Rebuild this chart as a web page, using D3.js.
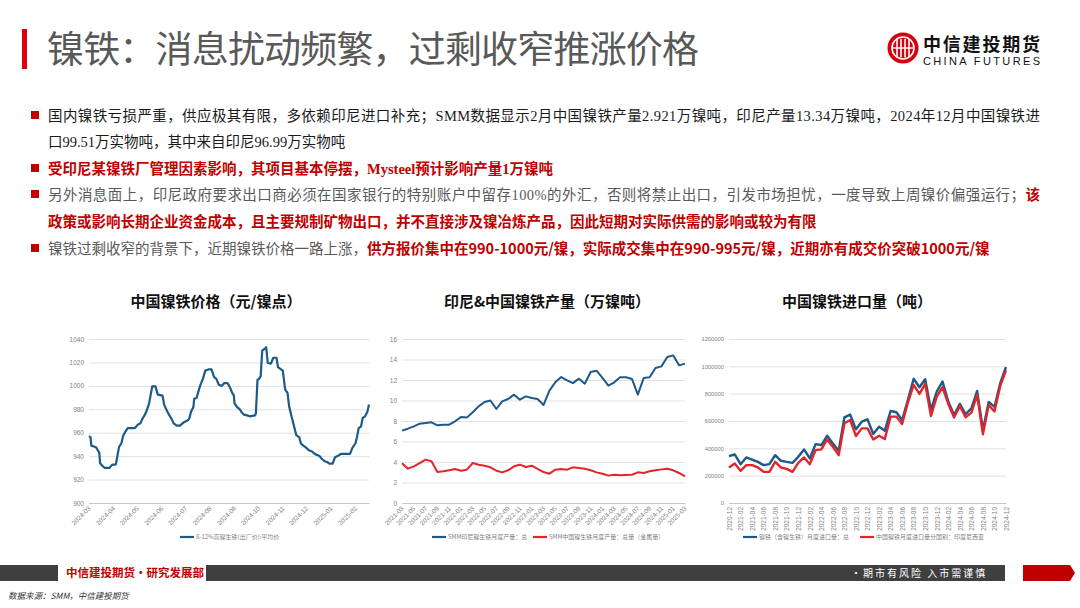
<!DOCTYPE html>
<html>
<head>
<meta charset="utf-8">
<script src="https://d3js.org/d3.v7.min.js"></script>
<title>镍铁：消息扰动频繁，过剩收窄推涨价格</title>
<style>
  body { margin: 0; background: #fff; }
  svg { display: block; }
</style>
</head>
<body>
<svg width="1080" height="608"></svg>
<script>
// ---- data ----
var priceDates = ["2024-03-01","2024-03-03","2024-03-04","2024-03-08","2024-03-10","2024-03-13","2024-03-14","2024-03-15","2024-03-19","2024-03-21","2024-03-27","2024-03-30",
  "2024-04-04","2024-04-08","2024-04-11","2024-04-13","2024-04-16","2024-04-19","2024-04-28","2024-05-02","2024-05-05","2024-05-08","2024-05-10","2024-05-13","2024-05-16","2024-05-18","2024-05-20","2024-05-24","2024-05-27",
  "2024-06-02","2024-06-04","2024-06-08","2024-06-11","2024-06-14","2024-06-16","2024-06-20","2024-06-24","2024-06-29","2024-07-04","2024-07-06","2024-07-08","2024-07-11","2024-07-12","2024-07-15","2024-07-18","2024-07-20","2024-07-23","2024-07-26","2024-07-30",
  "2024-08-03","2024-08-06","2024-08-09","2024-08-12","2024-08-16","2024-08-19","2024-08-23","2024-08-26","2024-08-29","2024-08-31","2024-09-01","2024-09-04","2024-09-08","2024-09-10","2024-09-13","2024-09-17","2024-09-20","2024-09-27","2024-09-28","2024-09-30",
  "2024-10-02","2024-10-04","2024-10-06","2024-10-09","2024-10-11","2024-10-13","2024-10-17","2024-10-20","2024-10-24","2024-10-26","2024-11-01","2024-11-04","2024-11-07","2024-11-09","2024-11-12","2024-11-14","2024-11-18","2024-11-22","2024-11-24","2024-11-27","2024-11-30",
  "2024-12-04","2024-12-08","2024-12-10","2024-12-13","2024-12-17","2024-12-20","2024-12-24","2024-12-27","2024-12-30","2025-01-03","2025-01-06","2025-01-10","2025-01-14","2025-01-25","2025-01-28","2025-02-01","2025-02-03","2025-02-05","2025-02-08","2025-02-10","2025-02-13","2025-02-16","2025-02-18"];
var priceValues = [957,956,949,948,947.5,944,943,934,931,930,930,932.5,
  933,948,951,957,961,964,964,967,968,972.5,974.5,979,985,992.5,999.6,999.6,992.5,
  991.6,984,978,974.5,971,968,966,966,969,970.6,972.5,978,982,989,989.6,996.8,1001,1006,1013,1014,
  1014,1007.6,1006,1001,1000,1002.4,1002.4,999,994,992,985,982,979.7,977.4,975.4,974.8,974,974.8,976.8,1005,
  1006,1008,1030,1031.5,1033,1019.5,1019,1024,1024,1016,1013,996.8,994,982.5,974,969,958,956,950.6,949,947.5,
  945,944,942.7,941.3,940.4,938,935.6,935,933.6,933.6,939,940.4,942,942,947,951,957,964,965.5,972.6,974,978,984];
var priceMonthLabels = ["2024-03","2024-04","2024-05","2024-06","2024-07","2024-08","2024-09","2024-10","2024-11","2024-12","2025-01","2025-02"];
var priceTicks = [900,920,940,960,980,1000,1020,1040];

var prodMonths = ["2021-03","2021-04","2021-05","2021-06","2021-07","2021-08","2021-09","2021-10","2021-11","2021-12",
  "2022-01","2022-02","2022-03","2022-04","2022-05","2022-06","2022-07","2022-08","2022-09","2022-10","2022-11","2022-12",
  "2023-01","2023-02","2023-03","2023-04","2023-05","2023-06","2023-07","2023-08","2023-09","2023-10","2023-11","2023-12",
  "2024-01","2024-02","2024-03","2024-04","2024-05","2024-06","2024-07","2024-08","2024-09","2024-10","2024-11","2024-12",
  "2025-01","2025-02","2025-03"];
var idnProd = [7.06,7.25,7.48,7.74,7.8,7.87,7.58,7.64,7.64,7.97,
  8.39,8.33,8.85,9.43,9.85,10.0,9.17,9.92,10.15,10.57,10.08,10.4,
  10.24,10.15,9.56,10.96,11.77,12.29,11.97,11.7,12.13,11.64,12.78,12.91,
  12.2,11.45,11.77,12.26,12.26,12.1,10.57,12.2,12.26,13.17,13.33,14.24,
  14.4,13.43,13.6];
var cnProd = [3.87,3.35,3.58,3.9,4.23,4.07,3.02,3.09,3.19,3.32,
  3.15,3.25,3.9,3.74,3.64,3.48,3.15,2.99,3.19,3.58,3.74,3.51,
  3.64,3.32,3.02,2.86,3.25,3.32,3.25,3.48,3.41,3.35,3.19,2.99,
  2.86,2.67,2.76,2.7,2.73,2.76,2.99,2.93,3.09,3.19,3.28,3.35,
  3.19,2.93,2.6];
var prodTicks = [0,2,4,6,8,10,12,14,16];
var prodRightTicks = [20,40,60,80,100,120];

var impMonths = ["2020-12","2021-01","2021-02","2021-03","2021-04","2021-05","2021-06","2021-07","2021-08","2021-09","2021-10","2021-11","2021-12",
  "2022-01","2022-02","2022-03","2022-04","2022-05","2022-06","2022-07","2022-08","2022-09","2022-10","2022-11","2022-12",
  "2023-01","2023-02","2023-03","2023-04","2023-05","2023-06","2023-07","2023-08","2023-09","2023-10","2023-11","2023-12",
  "2024-01","2024-02","2024-03","2024-04","2024-05","2024-06","2024-07","2024-08","2024-09","2024-10","2024-11","2024-12"];
var impTotal = [343000,355000,284000,333000,318000,301000,277000,284000,350000,309000,301000,294000,338000,
  392000,326000,431000,424000,492000,436000,382000,627000,647000,539000,595000,612000,
  505000,558000,529000,673000,664000,607000,754000,909000,847000,906000,681000,815000,
  889000,742000,644000,725000,651000,693000,820000,534000,740000,703000,877000,995100];
var impIdn = [260000,289000,235000,277000,277000,260000,228000,228000,301000,260000,250000,228000,294000,
  333000,284000,387000,392000,465000,411000,350000,583000,607000,490000,546000,546000,
  465000,492000,468000,632000,632000,578000,735000,864000,798000,872000,637000,779000,
  847000,725000,625000,710000,627000,661000,791000,502000,717000,669000,857000,969900];
var impTicks = [0,200000,400000,600000,800000,1000000,1200000];

var BLUE = '#1c5a8a', RED = '#e3242b', DARKRED = '#c00000';
var SANS = '"Liberation Sans", Arial, sans-serif';
var CN = '"Noto Sans CJK SC", sans-serif';
var SERIF = '"Liberation Serif", "Noto Sans CJK SC", serif';

var svg = d3.select('svg');

// ---- header ----
svg.append('rect').attr('x', 22).attr('y', 29).attr('width', 5).attr('height', 40).attr('fill', '#d7000f');
svg.append('text').attr('x', 47).attr('y', 63)
  .style('font-family', CN).style('font-size', '37px').attr('fill', '#595959')
  .attr('textLength', 652)
  .text('镍铁：消息扰动频繁，过剩收窄推涨价格');

// logo
var logo = svg.append('g').attr('transform', 'translate(903,48)');
logo.append('circle').attr('r', 15.5).attr('fill', '#d7000f');
logo.append('circle').attr('r', 11).attr('fill', 'none').attr('stroke', '#fff').attr('stroke-width', 1.6);
[-6, -2, 2, 6].forEach(function(dx) {
  logo.append('line').attr('x1', dx).attr('x2', dx).attr('y1', -9).attr('y2', 9)
    .attr('stroke', '#fff').attr('stroke-width', 1.6);
});
logo.append('line').attr('x1', -10).attr('x2', 10).attr('y1', 0).attr('y2', 0).attr('stroke', '#fff').attr('stroke-width', 1.4);
svg.append('text').attr('x', 923).attr('y', 51).attr('textLength', 117)
  .style('font-family', CN).style('font-size', '18px').style('font-weight', 'bold').attr('fill', '#111')
  .text('中信建投期货');
svg.append('text').attr('x', 923).attr('y', 65).attr('textLength', 117)
  .style('font-family', SANS).style('font-size', '11px').attr('fill', '#111')
  .text('CHINA FUTURES');

// ---- bullet text ----
var bullets = [
  {y: 121, bullet: true, len: 992, parts: [
    {t: '国内镍铁亏损严重，供应极其有限，多依赖印尼进口补充；SMM数据显示2月中国镍铁产量2.921万镍吨，印尼产量13.34万镍吨，2024年12月中国镍铁进', c: '#1a1a1a'}]},
  {y: 147, parts: [{t: '口99.51万实物吨，其中来自印尼96.99万实物吨', c: '#1a1a1a'}]},
  {y: 174, bullet: true, parts: [{t: '受印尼某镍铁厂管理因素影响，其项目基本停摆，Mysteel预计影响产量1万镍吨', c: DARKRED, b: true}]},
  {y: 200, bullet: true, len: 992, parts: [
    {t: '另外消息面上，印尼政府要求出口商必须在国家银行的特别账户中留存100%的外汇，否则将禁止出口，引发市场担忧，一度导致上周镍价偏强运行；', c: '#595959'},
    {t: '该', c: DARKRED, b: true}]},
  {y: 227, parts: [{t: '政策或影响长期企业资金成本，且主要规制矿物出口，并不直接涉及镍冶炼产品，因此短期对实际供需的影响或较为有限', c: DARKRED, b: true}]},
  {y: 254, bullet: true, parts: [
    {t: '镍铁过剩收窄的背景下，近期镍铁价格一路上涨，', c: '#595959'},
    {t: '供方报价集中在990-1000元/镍，实际成交集中在990-995元/镍，近期亦有成交价突破1000元/镍', c: DARKRED, b: true, f: CN}]}
];
bullets.forEach(function(l) {
  if (l.bullet) {
    svg.append('rect').attr('x', 31).attr('y', l.y - 10).attr('width', 8).attr('height', 8).attr('fill', DARKRED);
  }
  var t = svg.append('text').attr('x', 48).attr('y', l.y)
    .style('font-family', SERIF).style('font-size', '14.5px');
  if (l.len) t.attr('textLength', l.len).attr('lengthAdjust', 'spacing');
  l.parts.forEach(function(p) {
    t.append('tspan').text(p.t).attr('fill', p.c)
      .style('font-weight', p.b ? 'bold' : 'normal')
      .style('font-family', p.f || SERIF);
  });
});

// ---- helpers ----
function chartTitle(cx, txt) {
  svg.append('text').attr('x', cx).attr('y', 307).attr('text-anchor', 'middle')
    .style('font-family', CN).style('font-size', '15px').style('font-weight', 'bold').attr('fill', '#111')
    .text(txt);
}

function leftAxis(scale, ticks, x0, x1, fmt, fs) {
  var g = svg.append('g').attr('transform', `translate(${x0},0)`)
    .call(d3.axisLeft(scale).tickValues(ticks).tickSize(-(x1 - x0)).tickPadding(5).tickFormat(fmt || d3.format('d')));
  g.select('.domain').remove();
  g.selectAll('line').attr('stroke', '#d9d9d9').attr('stroke-width', 0.8);
  g.selectAll('text').attr('fill', '#7f7f7f').style('font-family', SANS).style('font-size', (fs || 6.5) + 'px');
  return g;
}

function bottomAxis(scale, ticks, y0, fmt, rot) {
  var g = svg.append('g').attr('transform', `translate(0,${y0})`)
    .call(d3.axisBottom(scale).tickValues(ticks).tickSize(0).tickPadding(4).tickFormat(fmt));
  g.select('.domain').attr('stroke', '#bfbfbf').attr('stroke-width', 0.8);
  var tx = g.selectAll('text').attr('fill', '#7f7f7f').style('font-family', SANS).style('font-size', '6.5px')
    .attr('text-anchor', 'end');
  if (rot === -90) {
    tx.attr('transform', 'rotate(-90)').attr('x', -4).attr('y', 0).attr('dy', '0.35em');
  } else {
    tx.attr('transform', 'rotate(-45)').attr('x', -3).attr('y', 3).attr('dy', '0.35em');
  }
  return g;
}

function legendItem(x, y, color, txt) {
  svg.append('line').attr('x1', x).attr('x2', x + 14).attr('y1', y).attr('y2', y)
    .attr('stroke', color).attr('stroke-width', 2.2);
  svg.append('text').attr('x', x + 16).attr('y', y).attr('dy', '0.35em')
    .style('font-family', CN).style('font-size', '6px').attr('fill', '#7f7f7f')
    .text(txt);
}

var plotTop = 339, plotBottom = 503;

// ---- chart 1: price ----
chartTitle(216, '中国镍铁价格（元/镍点）');
var parseDay = d3.timeParse('%Y-%m-%d'), parseMonth = d3.timeParse('%Y-%m');
var priceData = priceDates.map(function(d, i) { return {date: parseDay(d), value: priceValues[i]}; });
var x1 = d3.scaleTime().domain([parseDay('2024-03-01'), parseDay('2025-02-18')]).range([89, 369]);
var y1 = d3.scaleLinear().domain([900, 1040]).range([plotBottom, plotTop]);
leftAxis(y1, priceTicks, 89, 369);
bottomAxis(x1, priceMonthLabels.map(parseMonth), plotBottom, d3.timeFormat('%Y-%m'), -45);
svg.append('path').datum(priceData)
  .attr('fill', 'none').attr('stroke', BLUE).attr('stroke-width', 2.2).attr('stroke-linejoin', 'round')
  .attr('d', d3.line().x(d => x1(d.date)).y(d => y1(d.value)));
legendItem(180, 537, BLUE, '8-12%高镍生铁(出厂价):平均价');

// ---- chart 2: production ----
chartTitle(547, '印尼&中国镍铁产量（万镍吨）');
var x2 = d3.scalePoint().domain(prodMonths).range([402, 685]);
var y2 = d3.scaleLinear().domain([0, 16]).range([plotBottom, plotTop]);
var y2r = d3.scaleLinear().domain([0, 120]).range([plotBottom, plotTop]);
leftAxis(y2, prodTicks, 402, 685);
bottomAxis(x2, prodMonths.filter((d, i) => i % 2 === 0), plotBottom, d => d, -45);
// right axis is cut off at the picture's edge, as in the source
svg.append('clipPath').attr('id', 'rclip').append('rect').attr('x', 688).attr('y', 300).attr('width', 13).attr('height', 220);
svg.append('g').attr('clip-path', 'url(#rclip)')
  .attr('transform', 'translate(690,0)')
  .call(d3.axisRight(y2r).tickValues(prodRightTicks).tickSize(0).tickPadding(3))
  .call(g => g.select('.domain').remove())
  .selectAll('text').attr('fill', '#7f7f7f').style('font-family', SANS).style('font-size', '6px');
svg.append('path').datum(idnProd)
  .attr('fill', 'none').attr('stroke', BLUE).attr('stroke-width', 2).attr('stroke-linejoin', 'round')
  .attr('d', d3.line().x((d, i) => x2(prodMonths[i])).y(d => y2(d)));
svg.append('path').datum(cnProd)
  .attr('fill', 'none').attr('stroke', RED).attr('stroke-width', 2).attr('stroke-linejoin', 'round')
  .attr('d', d3.line().x((d, i) => x2(prodMonths[i])).y(d => y2(d)));
legendItem(432, 537, BLUE, 'SMM印尼镍生铁月度产量：总');
legendItem(533, 537, RED, 'SMM中国镍生铁月度产量：总量（金属量）');

// ---- chart 3: imports ----
chartTitle(857, '中国镍铁进口量（吨）');
var x3 = d3.scalePoint().domain(impMonths).range([729, 1006]);
var y3 = d3.scaleLinear().domain([0, 1200000]).range([plotBottom, plotTop]);
leftAxis(y3, impTicks, 729, 1006, d3.format('d'), 5.8);
bottomAxis(x3, impMonths.filter((d, i) => i % 2 === 0), plotBottom, d => d, -90);
svg.append('path').datum(impTotal)
  .attr('fill', 'none').attr('stroke', BLUE).attr('stroke-width', 2.4).attr('stroke-linejoin', 'round')
  .attr('d', d3.line().x((d, i) => x3(impMonths[i])).y(d => y3(d)));
svg.append('path').datum(impIdn)
  .attr('fill', 'none').attr('stroke', RED).attr('stroke-width', 2.4).attr('stroke-linejoin', 'round')
  .attr('d', d3.line().x((d, i) => x3(impMonths[i])).y(d => y3(d)));
legendItem(743, 537, BLUE, '镍铁（含镍生铁）月度进口量：总');
legendItem(860, 537, RED, '中国镍铁月度进口量分国别：印度尼西亚');

// ---- footer ----
svg.append('rect').attr('x', 0).attr('y', 565).attr('width', 58).attr('height', 16).attr('fill', '#3f3f3f');
svg.append('rect').attr('x', 206).attr('y', 565).attr('width', 799).attr('height', 16).attr('fill', '#3f3f3f');
svg.append('text').attr('x', 66).attr('y', 577)
  .style('font-family', CN).style('font-size', '11.5px').style('font-weight', 'bold').attr('fill', DARKRED)
  .text('中信建投期货•研究发展部');
svg.append('text').attr('x', 851).attr('y', 577)
  .style('font-family', CN).style('font-size', '10px').style('letter-spacing', '2px').attr('fill', '#fff')
  .text('•期市有风险  入市需谨慎');
svg.append('path').attr('d', 'M1023,565 L1070,565 L1075,573 L1070,581 L1023,581 Z').attr('fill', DARKRED);
svg.append('text').attr('x', 8).attr('y', 599)
  .style('font-family', CN).style('font-size', '8.5px').style('font-style', 'italic').attr('fill', '#333')
  .text('数据来源：SMM，中信建投期货');
</script>
</body>
</html>
